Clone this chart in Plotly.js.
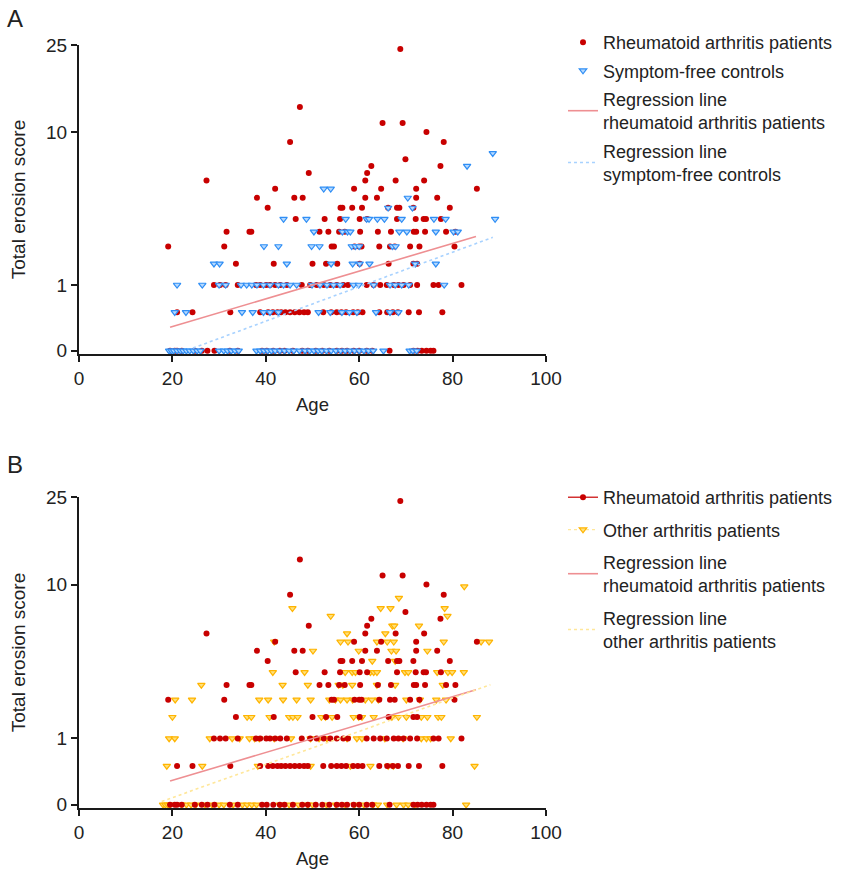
<!DOCTYPE html>
<html>
<head>
<meta charset="utf-8">
<script src="https://cdn.plot.ly/plotly-3.0.1.min.js"></script>
<style>html,body{margin:0;padding:0;background:#fff;}</style>
</head>
<body>
<div id="chart" style="width:847px;height:871px;"></div>
<script>
// ---------- DATA ----------
// Rheumatoid arthritis patients: score levels and the ages of the patients at each level
const raScores = [0, 0.5, 1, 1.5, 2, 2.5, 3, 3.5, 4, 4.5, 5, 5.5, 6, 6.5, 8, 9, 10, 12, 23];
const raAges = [
  [19.5, 20.5, 21, 22, 24.8, 26.3, 27.5, 29, 32.3, 34, 39.2, 40.2, 41.6, 43, 44, 45.8, 47.8, 49, 50.7, 52.1, 53.6, 55.2, 56.3, 57.4, 58.8, 60, 61.6, 62.8, 66.5, 71.6, 72.5, 73.4, 74.4, 75.3, 75.9],
  [21, 24.3, 32.4, 38.8, 40.5, 41.5, 42.5, 43.3, 44.2, 45.2, 46.2, 47.2, 48.2, 49, 52.3, 54, 55.2, 56.2, 57.2, 58.7, 59.7, 60.7, 64.3, 66, 67.2, 68.3, 70.6, 72.8, 77.8],
  [28.9, 30.2, 31.4, 34, 37.9, 38.8, 40.1, 40.9, 42, 43.1, 44.5, 47.7, 49.5, 50.9, 52.4, 53.8, 55.2, 56.6, 57.6, 61.6, 63.1, 64.5, 65.9, 67.4, 68.4, 69.5, 70.9, 72.4, 75.9, 77, 81.9],
  [33.6, 41.7, 50, 52.9, 55.3, 60.1, 66.3, 71.6, 72.4],
  [19.1, 31.1, 54.1, 54.6, 59, 60, 60.5, 64.3, 66.6, 67.6, 70.9, 72.9, 80.4],
  [31.6, 36.5, 36.9, 51.5, 53.4, 55.7, 56.9, 60.2, 64, 66.8, 71.7, 72.2, 74.1, 78.6, 80.6],
  [46.4, 52.6, 55.9, 60.1, 61.7, 68.1, 72.1, 73.8, 74.3, 77.5],
  [40.4, 56, 56.4, 58.5, 60.6, 66.2, 68.1, 68.6, 71.6, 79.4],
  [38.1, 46.1, 47.9, 61.3, 63.8, 72.2, 76.7],
  [42, 58.9, 64.7, 72.2, 85.2],
  [27.3, 61.3, 67.8, 73.9],
  [49.2, 61.7],
  [62.6, 77.4],
  [69.9],
  [45.2, 78.1],
  [74.4],
  [65, 69.3],
  [47.3],
  [68.8]
];

// Symptom-free controls
const ctrlScores = [0, 0.5, 1, 1.5, 2, 2.5, 3, 3.5, 4, 4.5, 6, 7];
const ctrlAges = [
  [19.3, 19.8, 20.3, 21, 21.7, 22.3, 23, 23.7, 24.5, 25.3, 26, 30, 31, 31.8, 32.6, 33.4, 34.2, 38, 38.8, 39.6, 40.4, 41.2, 42, 43, 44, 45, 46, 47.2, 48.4, 49.4, 50.3, 51.2, 52, 53, 54, 55, 56, 57, 58, 59, 60, 61, 62, 63, 65.2, 70.8, 71.5, 72.3],
  [20.5, 22.9, 34.9, 37.2, 39.5, 40.9, 42.7, 51.3, 53.8, 56.3, 57.9, 59.5, 63.6, 66.6, 68.4],
  [21, 26.4, 30, 31.4, 34.7, 35.9, 37, 38.1, 39.5, 40.9, 42.7, 43.8, 45.2, 46.6, 49.9, 51.6, 53.1, 54.5, 55.9, 58.8, 59.9, 63.1, 66.6, 67.7, 69.1, 70.6, 78.2],
  [28.9, 30.1, 44.5, 54, 58.6, 60.1, 62.2, 72, 76.4],
  [39.6, 42.7, 49.8, 51.5, 58.4, 59.2, 60, 67.1, 67.8],
  [50.3, 56.4, 57.5, 58.1, 68.6, 70.2, 76.4, 80.2, 81.1],
  [43.8, 48.7, 57.1, 61.6, 62.1, 63.9, 65.4, 69.1, 76, 78.5, 89.1],
  [66.2, 71.4],
  [70.4],
  [52.4, 53.9],
  [83.1],
  [88.6]
];

// Other arthritis patients
const oaScores = [0, 0.5, 1, 1.5, 2, 2.5, 3, 3.5, 4, 4.5, 5, 5.5, 6.2, 6.8, 7.7, 8.8];
const oaAges = [
  [18, 18.5, 19, 19.5, 22, 23, 24, 25, 27, 28.5, 30, 31, 33, 35, 36, 37, 38, 43, 45, 47, 49, 50, 53, 55, 57, 59, 61, 63, 64, 66, 68, 69.5, 70.5, 72, 82.9],
  [18.8, 26.4, 38.3, 49.6, 58.1, 62.4, 66.2, 67.3, 84.7],
  [19.3, 20.5, 28, 32.8, 34.4, 36.5, 37.6, 38.6, 41.8, 45.4, 49.6, 51.4, 53.1, 57.4, 59.5, 60.6, 65.5, 69.4, 73.3, 74.4, 75.3, 79.6],
  [20, 36, 36.9, 40.8, 45, 45.8, 46.8, 51.9, 52.8, 54.2, 58.8, 59.9, 60.6, 63.1, 67, 68.4, 70.1, 73.3, 74.6, 76.9, 77.6, 85.2],
  [20.6, 24.2, 38.6, 40.5, 43.7, 46.6, 49.6, 53.6, 54.9, 56, 57.4, 58.6, 61.3, 62.7, 64.1, 70.1, 73, 76.5, 78.6],
  [26.2, 43.6, 49, 55.6, 56.5, 58.5, 63.8, 67.7, 77.9],
  [41.5, 48.3, 57, 58.5, 59.2, 62.4, 63.1, 63.8, 69.8, 70.5, 76.7, 79, 79.9, 82.4],
  [62.8, 67.7],
  [50.1, 59.9, 66.9, 67.9, 74.6],
  [41.8, 56, 57.6, 63.8, 66, 67.4, 78.1, 86.1, 87.8],
  [57.4, 65.6],
  [67.1, 67.5, 72.8],
  [53.9, 78.9],
  [45.7, 64.6, 66.7, 78.3],
  [68.5],
  [82.5]
];

// Regression lines (end points: age, score)
const regRaAge = [19.5, 85];
const regRaScore = [0.28, 2.33];
const regCtrlAge = [24.4, 88.6];
const regCtrlScore = [0.028, 2.3];
const regOaAge = [17.7, 88.1];
const regOaScore = [0.035, 2.51];

// Axis ticks
const xTickVals = [0, 20, 40, 60, 80, 100];
const yTickPos = [0, 0.301, 1, 1.398];   // positions on the log10(score+1) axis
const yTickText = ['0', '1', '10', '25'];

// ---------- HELPERS ----------
const tf = v => Math.log10(v + 1);
function flat(scores, agesByLevel) {
  const x = [], y = [];
  agesByLevel.forEach((ages, i) => ages.forEach(a => { x.push(a); y.push(tf(scores[i])); }));
  return {x, y};
}
const ra = flat(raScores, raAges);
const ctrl = flat(ctrlScores, ctrlAges);
const oa = flat(oaScores, oaAges);

const FONT = 'Liberation Sans, Arial, Helvetica, sans-serif';
const TXT = '#222';
const RED = '#c80000';
const REGRED = '#ee8f92';
const BLUE_LINE = '#2f8ef5';
const BLUE_FILL = '#b5d9ff';
const REGBLUE = '#a8d2ff';
const YEL_LINE = '#ffb400';
const YEL_FILL = '#ffe07a';
const REGYEL = '#ffe79a';

const redMarker = {symbol: 'circle', size: 6, color: RED, line: {width: 0}};
const blueMarker = {symbol: 'triangle-down', size: 6.5, color: BLUE_FILL, line: {color: BLUE_LINE, width: 1.2}};
const yelMarker = {symbol: 'triangle-down', size: 6.5, color: YEL_FILL, line: {color: YEL_LINE, width: 1.2}};

const traces = [
  // Panel A
  {x: ra.x, y: ra.y, type: 'scatter', mode: 'markers', marker: redMarker, legendgroup: 'a1',
   name: 'Rheumatoid arthritis patients', xaxis: 'x', yaxis: 'y', legend: 'legend'},
  {x: ctrl.x, y: ctrl.y, type: 'scatter', mode: 'markers', marker: blueMarker, legendgroup: 'a2',
   name: 'Symptom-free controls', xaxis: 'x', yaxis: 'y', legend: 'legend'},
  {x: regRaAge, y: regRaScore.map(tf), type: 'scatter', mode: 'lines', line: {color: REGRED, width: 1.6}, legendgroup: 'a3',
   name: 'Regression line<br>rheumatoid arthritis patients', xaxis: 'x', yaxis: 'y', legend: 'legend'},
  {x: regCtrlAge, y: regCtrlScore.map(tf), type: 'scatter', mode: 'lines', line: {color: REGBLUE, width: 1.6, dash: 'dot'}, legendgroup: 'a4',
   name: 'Regression line<br>symptom-free controls', xaxis: 'x', yaxis: 'y', legend: 'legend'},
  // Panel B
  {x: oa.x, y: oa.y, type: 'scatter', mode: 'markers', marker: yelMarker,
   name: 'Other arthritis patients', xaxis: 'x2', yaxis: 'y2', showlegend: false},
  {x: ra.x, y: ra.y, type: 'scatter', mode: 'markers', marker: redMarker,
   name: 'Rheumatoid arthritis patients', xaxis: 'x2', yaxis: 'y2', showlegend: false},
  {x: [null], y: [null], type: 'scatter', mode: 'lines+markers', marker: redMarker, line: {color: RED, width: 1.2}, legendgroup: 'b1',
   name: 'Rheumatoid arthritis patients', xaxis: 'x2', yaxis: 'y2', legend: 'legend2'},
  {x: [null], y: [null], type: 'scatter', mode: 'lines+markers', marker: yelMarker, line: {color: REGYEL, width: 1.4, dash: 'dot'}, legendgroup: 'b2',
   name: 'Other arthritis patients', xaxis: 'x2', yaxis: 'y2', legend: 'legend2'},
  {x: regRaAge, y: regRaScore.map(tf), type: 'scatter', mode: 'lines', line: {color: REGRED, width: 1.6}, legendgroup: 'b3',
   name: 'Regression line<br>rheumatoid arthritis patients', xaxis: 'x2', yaxis: 'y2', legend: 'legend2'},
  {x: regOaAge, y: regOaScore.map(tf), type: 'scatter', mode: 'lines', line: {color: REGYEL, width: 1.6, dash: 'dot'}, legendgroup: 'b4',
   name: 'Regression line<br>other arthritis patients', xaxis: 'x2', yaxis: 'y2', legend: 'legend2'}
];

function xAx(anchor) {
  return {
    anchor: anchor, domain: [79/847, 546/847], range: [0, 100],
    tickmode: 'array', tickvals: xTickVals, ticktext: xTickVals.map(String),
    showline: true, linecolor: '#1a1a1a', linewidth: 2,
    ticks: 'outside', ticklen: 6, tickwidth: 2, tickcolor: '#1a1a1a',
    showgrid: false, zeroline: false,
    tickfont: {family: FONT, size: 19, color: TXT},
    title: {text: 'Age', font: {family: FONT, size: 18.5, color: TXT}, standoff: 10},
    automargin: false, fixedrange: true
  };
}
function yAx(anchor, top, bottom) {
  return {
    anchor: anchor, domain: [1 - bottom/871, 1 - top/871], range: [-0.015, 1.398],
    tickmode: 'array', tickvals: yTickPos, ticktext: yTickText,
    showline: true, linecolor: '#1a1a1a', linewidth: 2,
    ticks: 'outside', ticklen: 6, tickwidth: 2, tickcolor: '#1a1a1a',
    showgrid: false, zeroline: false,
    tickfont: {family: FONT, size: 19, color: TXT},
    title: {text: 'Total erosion score', font: {family: FONT, size: 19, color: TXT}, standoff: 15},
    automargin: false, fixedrange: true
  };
}

const legendBase = {
  xanchor: 'left', yanchor: 'top', bgcolor: 'rgba(0,0,0,0)', borderwidth: 0,
  font: {family: FONT, size: 18, color: TXT}, itemsizing: 'trace', traceorder: 'grouped',
  itemclick: false, itemdoubleclick: false
};

const layout = {
  width: 847, height: 871,
  margin: {l: 0, r: 0, t: 0, b: 0},
  paper_bgcolor: '#fff', plot_bgcolor: '#fff',
  showlegend: true,
  xaxis: xAx('y'),
  yaxis: yAx('x', 45, 354),
  xaxis2: xAx('y2'),
  yaxis2: yAx('x2', 497, 808),
  legend: Object.assign({}, legendBase, {x: 563/847, y: 1 - 24/871, tracegroupgap: 2}),
  legend2: Object.assign({}, legendBase, {x: 563/847, y: 1 - 479/871, tracegroupgap: 6}),
  annotations: [
    {text: 'A', xref: 'paper', yref: 'paper', x: 15/847, y: 1 - 18/871, xanchor: 'center', yanchor: 'middle',
     showarrow: false, font: {family: FONT, size: 24, color: TXT}},
    {text: 'B', xref: 'paper', yref: 'paper', x: 15/847, y: 1 - 465/871, xanchor: 'center', yanchor: 'middle',
     showarrow: false, font: {family: FONT, size: 24, color: TXT}}
  ]
};

Plotly.newPlot('chart', traces, layout, {displayModeBar: false, staticPlot: true});
</script>
</body>
</html>
